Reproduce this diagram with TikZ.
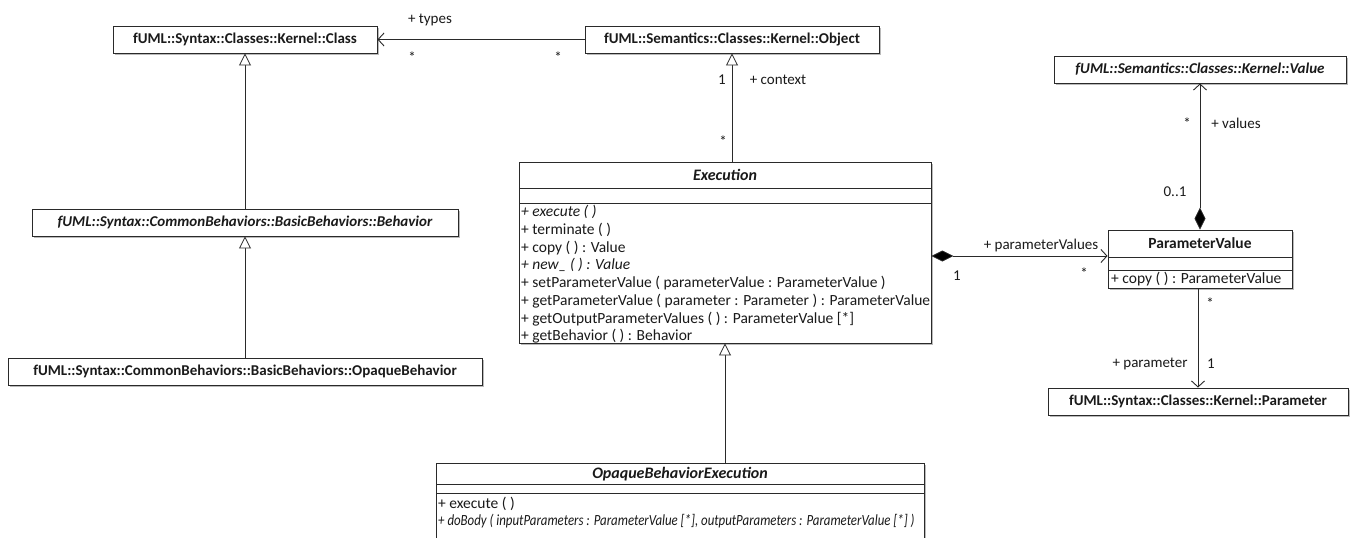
\documentclass[tikz,border=0pt]{standalone}
\usepackage{fontspec}
\setmainfont{Carlito}
\usetikzlibrary{arrows.meta,shadows}
\definecolor{ln}{HTML}{2A2A2A}
\definecolor{tx}{HTML}{1A1A1A}
\tikzset{
  cls/.style={draw=ln, line width=0.9pt, fill=white, inner sep=0pt, text=tx,
    drop shadow={shadow xshift=1.5pt,shadow yshift=-1.5pt,fill=black!45,opacity=0.6},
    font=\fontsize{15}{17}\selectfont\bfseries},
  clsi/.style={cls, font=\fontsize{15}{17}\selectfont\bfseries\itshape},
  optext/.style={anchor=west, inner sep=0pt, text=tx, font=\fontsize{15.5}{17}\selectfont},
  opit/.style={optext, font=\fontsize{15.5}{17}\selectfont\itshape},
  ttl/.style={inner sep=0pt, text=tx, font=\fontsize{15.5}{17}\selectfont\bfseries},
  ttli/.style={inner sep=0pt, text=tx, font=\fontsize{16}{18}\selectfont\bfseries\itshape},
  lbl/.style={inner sep=0pt, text=tx, font=\fontsize{15}{17}\selectfont},
  conn/.style={draw=ln, line width=0.8pt},
  gen/.style={conn, -{Triangle[open,length=12pt,width=12pt,fill=white]}},
  nav/.style={conn, -{Straight Barb[length=6pt,width=13pt,line width=0.9pt]}},
  comp/.style={conn, {Diamond[length=22pt,width=11pt,fill=black]}-{Straight Barb[length=6pt,width=13pt,line width=0.9pt]}},
  div/.style={draw=ln, line width=0.9pt},
}
\begin{document}
\begin{tikzpicture}[x=1pt,y=-1pt]
\useasboundingbox[fill=white] (0,0) rectangle (1352,538);
\clip (0,0) rectangle (1352,538);

% simple class boxes
\node[cls, minimum width=264pt, minimum height=27pt] (class) at (245,39.5) {fUML::Syntax::Classes::Kernel::Class};
\node[cls, minimum width=294pt, minimum height=27pt] (obj) at (732,39.5) {fUML::Semantics::Classes::Kernel::Object};
\node[clsi, minimum width=292pt, minimum height=27pt] (val) at (1200,69.5) {fUML::Semantics::Classes::Kernel::Value};
\node[clsi, minimum width=426pt, minimum height=27pt] (beh) at (245,222.5) {fUML::Syntax::CommonBehaviors::BasicBehaviors::Behavior};
\node[cls, minimum width=474pt, minimum height=27pt] (ob) at (245,371.5) {fUML::Syntax::CommonBehaviors::BasicBehaviors::OpaqueBehavior};
\node[cls, minimum width=300pt, minimum height=27pt] (par) at (1198,401.5) {fUML::Syntax::Classes::Kernel::Parameter};

% Execution
\node[cls, minimum width=412pt, minimum height=181pt] (exec) at (725,252.5) {};
\node[ttli] (exect) at (725,175) {Execution};
\draw[div] (519,188) -- (931,188);
\draw[div] (519,203) -- (931,203);
\node[opit]   (e1) at (521,212) {+ execute ( )};
\node[optext] (e2) at (521,229.8) {+ terminate ( )};
\node[optext] (e3) at (521,247.6) {+ copy ( ) : Value};
\node[opit]   (e4) at (521,265.4) {+ new\_ ( ) : Value};
\node[optext] (e5) at (521,283.2) {+ setParameterValue ( parameterValue : ParameterValue )};
\node[optext] (e6) at (521,301) {+ getParameterValue ( parameter : Parameter ) : ParameterValue};
\node[optext] (e7) at (521,318.8) {+ getOutputParameterValues ( ) : ParameterValue [*]};
\node[optext] (e8) at (521,336.6) {+ getBehavior ( ) : Behavior};

% ParameterValue
\node[cls, minimum width=184pt, minimum height=58pt] (pv) at (1200,259) {};
\node[ttl] (pvt) at (1200,243.5) {ParameterValue};
\draw[div] (1108,257) -- (1292,257);
\draw[div] (1108,270) -- (1292,270);
\node[optext] (pv1) at (1111,279.5) {+ copy ( ) : ParameterValue};

% OpaqueBehaviorExecution
\node[cls, minimum width=488pt, minimum height=100pt] (obe) at (680,513) {};
\node[ttli] (obet) at (680,474) {OpaqueBehaviorExecution};
\draw[div] (436,484) -- (924,484);
\draw[div] (436,493) -- (924,493);
\node[optext] (o1) at (438,504) {+ execute ( )};
\node[opit]   (o2) at (438,521.5) {\scalebox{0.83}[1]{+ doBody ( inputParameters : ParameterValue [*], outputParameters : ParameterValue [*] )}};

% connectors
\coordinate (r256) at (0,256);
\draw[nav] (obj.west) -- (class.east);
\draw[gen] (obj.south |- exec.north) -- (obj.south);
\draw[gen] (beh.north) -- (class.south);
\draw[gen] (ob.north) -- (beh.south);
\draw[gen] (exec.south |- obe.north) -- (exec.south);
\draw[comp] (exec.east |- r256) -- (pv.west |- r256);
\draw[comp] (pv.north) -- (val.south);
\draw[nav] (pv.south -| par.north) -- (par.north);

% labels
\node[lbl] (l1) at (430,20) {+ types};
\node[lbl] (l2) at (412,57) {*};
\node[lbl] (l3) at (558,57) {*};
\node[lbl] (l4) at (722,80) {1};
\node[lbl] (l5) at (778,80) {+ context};
\node[lbl] (l6) at (723,141) {*};
\node[lbl] (l7) at (1041,245) {+ parameterValues};
\node[lbl] (l8) at (957,276) {1};
\node[lbl] (l9) at (1084,273) {*};
\node[lbl] (l10) at (1187,123) {*};
\node[lbl] (l11) at (1236,123) {+ values};
\node[lbl] (l12) at (1175,192) {0..1};
\node[lbl] (l13) at (1210,303) {*};
\node[lbl] (l14) at (1150,364) {+ parameter};
\node[lbl] (l15) at (1211,364) {1};
\end{tikzpicture}
\end{document}
